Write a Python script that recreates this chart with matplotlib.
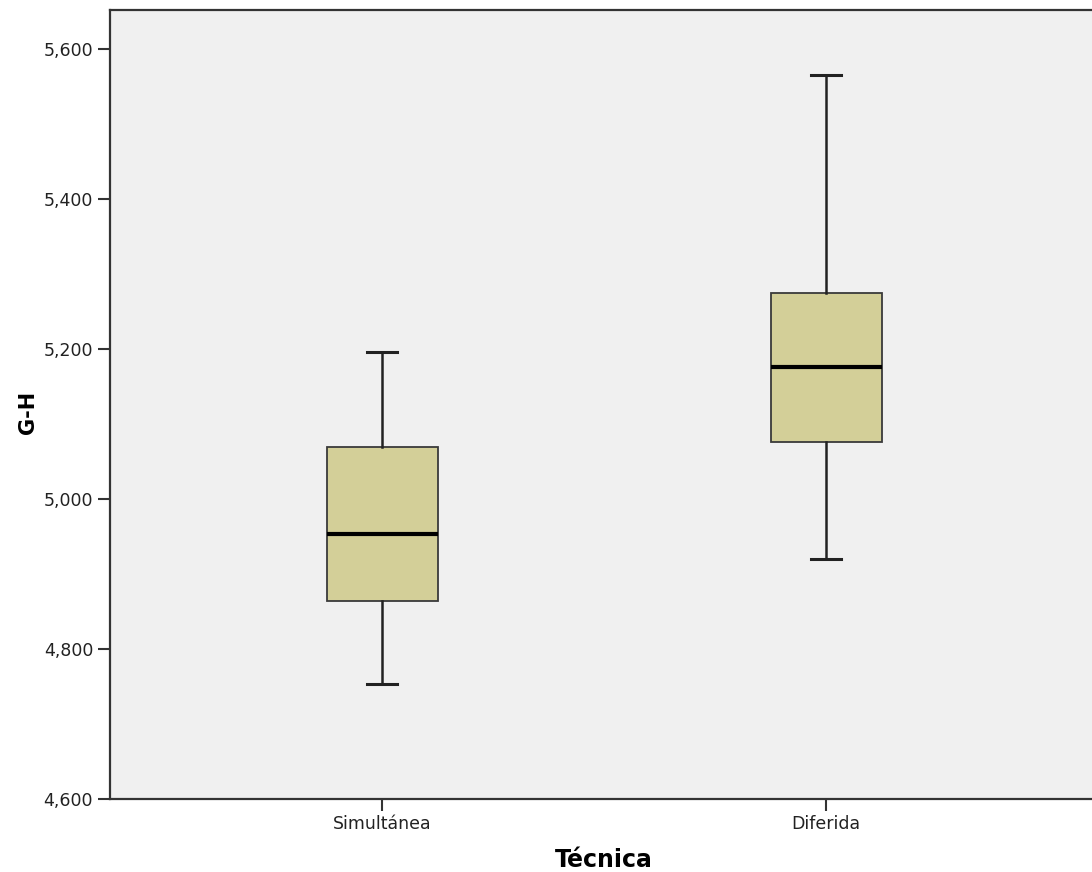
import matplotlib
matplotlib.use("Agg")
import matplotlib.pyplot as plt
from matplotlib.ticker import FuncFormatter

# resumen de cinco números por técnica (G-H)
tecnicas = ["Simultánea", "Diferida"]
bigote_inf = [4.753, 4.920]
q1 = [4.864, 5.076]
mediana = [4.953, 5.176]
q3 = [5.069, 5.275]
bigote_sup = [5.196, 5.566]

stats = []
for i in range(len(tecnicas)):
    stats.append({"label": tecnicas[i], "whislo": bigote_inf[i], "q1": q1[i],
                  "med": mediana[i], "q3": q3[i], "whishi": bigote_sup[i], "fliers": []})

fig = plt.figure(figsize=(10.92, 8.72), dpi=100)
ax = fig.add_axes([0.1007, 0.0837, 0.905, 0.9048])
ax.set_facecolor("#f0f0f0")

posiciones = [1, 2]
ax.bxp(stats, positions=posiciones, widths=0.25, patch_artist=True, showfliers=False,
       boxprops=dict(facecolor="#d3cf98", edgecolor="#3a3a3a", linewidth=1.3),
       medianprops=dict(color="black", linewidth=3),
       whiskerprops=dict(color="#222222", linewidth=1.8),
       capprops=dict(color="#222222", linewidth=2.2),
       capwidths=0.068)

ax.set_xlim(0.3874, 2.6126)
ax.set_ylim(4.6, 5.652)
ax.set_yticks([4.6, 4.8, 5.0, 5.2, 5.4, 5.6])
ax.yaxis.set_major_formatter(FuncFormatter(lambda v, p: "{:,.0f}".format(v * 1000)))
ax.set_xticks(posiciones)
ax.set_xticklabels(tecnicas)

for lado in ["top", "left", "bottom"]:
    ax.spines[lado].set_color("#333333")
    ax.spines[lado].set_linewidth(1.6)
ax.spines["right"].set_visible(False)

ax.tick_params(axis="both", direction="out", length=8.6, width=1.5, color="#333333",
               labelcolor="#222222")
ax.tick_params(axis="x", labelsize=12.5, pad=3)
ax.tick_params(axis="y", labelsize=12.5)

ax.set_xlabel("Técnica", fontsize=17, fontweight="bold", labelpad=11)
ax.set_ylabel("G-H", fontsize=15, fontweight="bold")
ax.yaxis.set_label_coords(-0.073, 0.49)

fig.savefig("out.png", dpi=100)
